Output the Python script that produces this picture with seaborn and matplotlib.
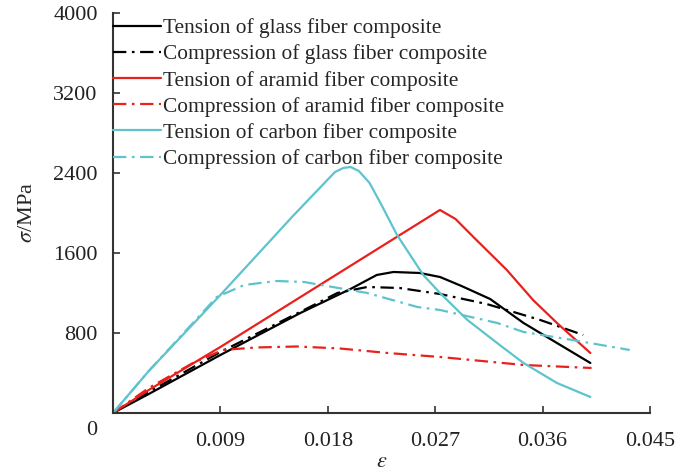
import pandas as pd
import seaborn as sns
import matplotlib.pyplot as plt

# strain / stress (MPa)
glass_t_x = [0, 0.003, 0.009, 0.0157, 0.0199, 0.0221, 0.0235, 0.0257, 0.0274, 0.0292, 0.0316, 0.0344, 0.0372, 0.0400]
glass_t_y = [0, 190, 580, 1000, 1240, 1380, 1410, 1400, 1360, 1270, 1140, 900, 700, 500]

glass_c_x = [0, 0.003, 0.009, 0.0165, 0.0188, 0.0213, 0.0240, 0.0274, 0.0313, 0.0330, 0.0358, 0.0394]
glass_c_y = [0, 210, 610, 1060, 1200, 1260, 1250, 1190, 1090, 1030, 930, 780]

aramid_t_x = [0, 0.003, 0.009, 0.0274, 0.0287, 0.0302, 0.0330, 0.0352, 0.0372, 0.0400]
aramid_t_y = [0, 230, 660, 2030, 1940, 1760, 1430, 1130, 900, 600]

aramid_c_x = [0, 0.003, 0.0067, 0.0092, 0.0120, 0.0154, 0.0190, 0.0230, 0.0274, 0.0344, 0.0401]
aramid_c_y = [0, 250, 500, 630, 655, 665, 645, 600, 560, 480, 450]

carbon_t_x = [0, 0.003, 0.009, 0.0150, 0.0186, 0.0193, 0.0199, 0.0206, 0.0215, 0.0225, 0.0238, 0.0260,
              0.0274, 0.0297, 0.0324, 0.0344, 0.0372, 0.0400]
carbon_t_y = [0, 420, 1180, 1960, 2410, 2450, 2460, 2420, 2300, 2080, 1780, 1380,
              1200, 930, 680, 500, 300, 160]

carbon_c_x = [0, 0.003, 0.0087, 0.0110, 0.0137, 0.0160, 0.0184, 0.0213, 0.0255, 0.0274, 0.0322, 0.0344,
              0.0385, 0.0433]
carbon_c_y = [0, 420, 1160, 1280, 1320, 1310, 1260, 1200, 1060, 1030, 900, 810, 730, 630]

labels = ["Tension of glass fiber composite", "Compression of glass fiber composite",
          "Tension of aramid fiber composite", "Compression of aramid fiber composite",
          "Tension of carbon fiber composite", "Compression of carbon fiber composite"]

x_ticks = [0.009, 0.018, 0.027, 0.036, 0.045]
y_ticks = [800, 1600, 2400, 3200, 4000]

series = [(glass_t_x, glass_t_y), (glass_c_x, glass_c_y),
          (aramid_t_x, aramid_t_y), (aramid_c_x, aramid_c_y),
          (carbon_t_x, carbon_t_y), (carbon_c_x, carbon_c_y)]
colors = ["black", "black", "#e8211d", "#e8211d", "#5ec3cd", "#5ec3cd"]
dashdot = (0, (6, 2.5, 1.2, 2.5))
styles = ["-", dashdot, "-", dashdot, "-", dashdot]

sns.set_style("ticks")
plt.rcParams['font.family'] = ['Liberation Serif', 'DejaVu Serif']
plt.rcParams['mathtext.fontset'] = 'stix'

fig = plt.figure(figsize=(6.75, 4.76), dpi=100)
ax = fig.add_axes([0.1674, 0.1324, 0.7956, 0.8403])

for (xs, ys), lab, c, ls in zip(series, labels, colors, styles):
    df = pd.DataFrame({'strain': xs, 'stress': ys})
    sns.lineplot(data=df, x='strain', y='stress', ax=ax, color=c, linestyle=ls,
                 linewidth=1.6, estimator=None, sort=False, label=lab)

ax.set_xlim(0, 0.045)
ax.set_ylim(0, 4000)
ax.set_xticks(x_ticks)
ax.set_xticklabels([f"{t:.3f}" for t in x_ticks])
ax.set_yticks(y_ticks)
ax.set_yticklabels([str(t) for t in y_ticks])
ax.tick_params(direction='in', length=5, width=1.2, colors='#333333', labelcolor='#222222', labelsize=16)
ax.tick_params(axis='x', pad=14)
ax.tick_params(axis='y', pad=11)
for s in ['top', 'right']:
    ax.spines[s].set_visible(False)
for s in ['left', 'bottom']:
    ax.spines[s].set_linewidth(1.5)
    ax.spines[s].set_color('#333333')

ax.set_xlabel(r'$\varepsilon$', fontsize=16, labelpad=1)
ax.set_ylabel(r'$\sigma$/MPa', fontsize=16, labelpad=12)
ax.text(-0.03, -0.045, '0', transform=ax.transAxes, fontsize=16, ha='right', va='center', color='#222222')

ax.legend(loc='upper left', bbox_to_anchor=(0, 0.987), frameon=False, fontsize=15.4, handlelength=2.25,
          handletextpad=0.1, borderpad=0, borderaxespad=0, labelspacing=0.29)

fig.savefig('out.png', dpi=100)
